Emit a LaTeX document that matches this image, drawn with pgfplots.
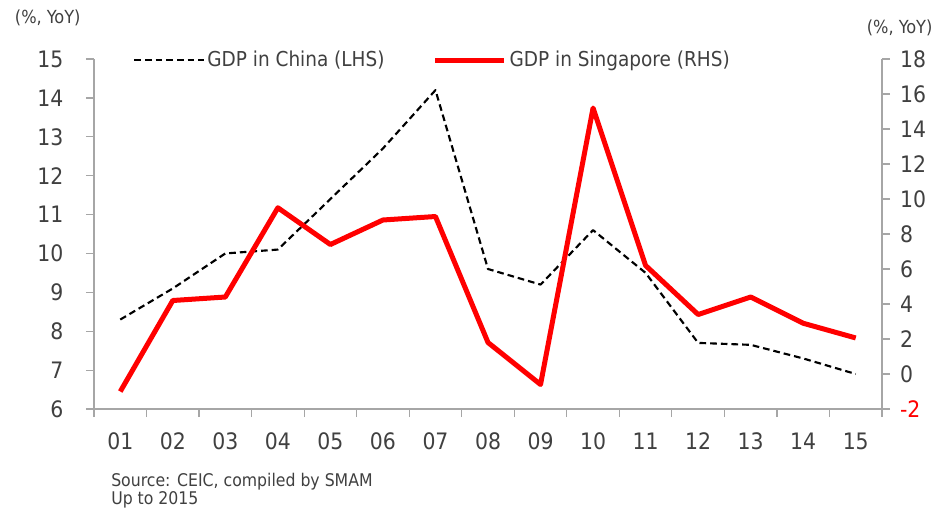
\documentclass[border=0pt]{standalone}
\usepackage{fontspec}
\setmainfont{DejaVu Sans Condensed}
\usepackage{pgfplots}
\pgfplotsset{compat=1.18}
\definecolor{txt}{HTML}{404040}
\definecolor{axgray}{HTML}{A6A6A6}
\begin{document}
\begin{tikzpicture}
\useasboundingbox (0,0) rectangle (700.5pt,-381pt);
\pgfplotsset{
  common/.style={
    at={(70.5pt,-306.75pt)}, anchor=south west,
    scale only axis, width=591pt, height=262.5pt,
    xmin=0.5, xmax=15.5,
    axis line style={axgray, line width=0.9pt, -},
    tick style={axgray, line width=0.9pt},
    major tick length=6pt, tick align=outside,
    tick label style={font=\fontsize{17pt}{18pt}\selectfont, text=txt},
  }
}
\begin{axis}[common,
  ymin=6, ymax=15,
  axis x line*=bottom, axis y line*=left,
  xtick={0.5,1.5,...,15.5},
  xticklabels={01,02,03,04,05,06,07,08,09,10,11,12,13,14,15,{}},
  x tick label style={xshift=19.7pt, yshift=-8.5pt},
  ytick={6,...,15},
  yticklabels={6,7,8,9,10,11,12,13,14,15},
  y tick label style={xshift=-13.5pt},
]
\addplot[black, line width=1.6pt, dash pattern=on 5pt off 3pt, line join=round] coordinates {
(1,8.3) (2,9.1) (3,10.0) (4,10.1) (5,11.4) (6,12.7) (7,14.2) (8,9.6)
(9,9.2) (10,10.6) (11,9.5) (12,7.7) (13,7.65) (14,7.3) (15,6.9)};
\end{axis}
\begin{axis}[common,
  ymin=-2, ymax=18,
  axis x line=none, axis y line*=right,
  ytick={-2,0,...,18},
  yticklabels={\textcolor{red}{-2},0,2,4,6,8,10,12,14,16,18},
  y tick label style={xshift=4pt},
  legend style={at={(0.0495,0.997)}, anchor=west, draw=none, fill=none,
    inner sep=0pt, legend columns=2,
    font=\fontsize{15.4pt}{17pt}\selectfont, text=txt,
    /tikz/every even column/.append style={column sep=34pt}},
  legend cell align=left,
  legend image code/.code={\draw[#1] (0pt,0pt) -- (52pt,0pt);},
]
\addlegendimage{black, line width=1.6pt, dash pattern=on 5pt off 3pt}
\addlegendentry{GDP in China (LHS)}
\addplot[red, line width=3.75pt, line join=round] coordinates {
(1,-1.0) (2,4.2) (3,4.4) (4,9.5) (5,7.4) (6,8.8) (7,9.0) (8,1.8)
(9,-0.6) (10,15.2) (11,6.2) (12,3.4) (13,4.4) (14,2.9) (15,2.06)};
\addlegendentry{GDP in Singapore (RHS)}
\end{axis}
\node[text=txt, font=\fontsize{13.5pt}{14pt}\selectfont, anchor=west, inner sep=0pt] at (11pt,-13.5pt) {(\%, YoY)};
\node[text=txt, font=\fontsize{13.5pt}{14pt}\selectfont, anchor=east, inner sep=0pt] at (699.5pt,-21pt) {(\%, YoY)};
\node[text=txt, font=\fontsize{13.1pt}{14pt}\selectfont, anchor=west, inner sep=0pt] at (83.25pt,-361.5pt) {Source: CEIC, compiled by SMAM};
\node[text=txt, font=\fontsize{13.1pt}{14pt}\selectfont, anchor=west, inner sep=0pt] at (83.25pt,-375pt) {Up to 2015};
\end{tikzpicture}
\end{document}
